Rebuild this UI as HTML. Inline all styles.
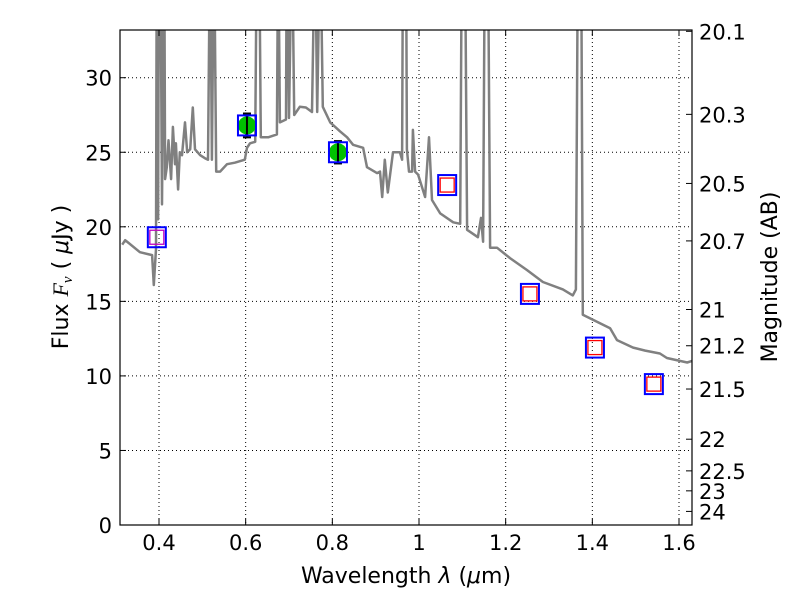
<!DOCTYPE html>
<html><head><meta charset="utf-8"><style>
body{margin:0;background:#fff;}
svg text{font-family:"DejaVu Sans","Liberation Sans",sans-serif;fill:#000;}
</style></head><body>
<svg id="chart" width="800" height="600" viewBox="0 0 800 600" xmlns="http://www.w3.org/2000/svg">
<defs><clipPath id="clip"><rect x="120" y="30" width="572" height="495"/></clipPath></defs>
<rect x="0" y="0" width="800" height="600" fill="#fff"/>
<g id="grid"></g>
<g id="spec" clip-path="url(#clip)"></g>
<g id="marks"></g>
<rect x="120" y="30" width="572" height="495" fill="none" stroke="#000" stroke-width="1.2"/>
<g id="axes"></g>
<text x="406" y="583" font-size="22" text-anchor="middle">Wavelength  <tspan font-style="italic">λ</tspan> (<tspan font-style="italic">μ</tspan>m)</text>
<text transform="translate(68,277) rotate(-90)" font-size="22" text-anchor="middle">Flux  <tspan font-family="Liberation Serif,serif" font-style="italic">F<tspan font-size="15" dy="4">ν</tspan></tspan><tspan dy="-4">  ( </tspan><tspan font-style="italic">μ</tspan>Jy )</text>
<text transform="translate(777,277) rotate(-90)" font-size="22" text-anchor="middle">Magnitude (AB)</text>
</svg>
<script>
const specLam=[0.315,0.322,0.356,0.384,0.388,0.393,0.395,0.398,0.400,0.403,0.407,0.412,0.414,0.418,0.422,0.428,0.432,0.437,0.439,0.444,0.448,0.453,0.460,0.465,0.472,0.478,0.483,0.495,0.506,0.513,0.518,0.522,0.527,0.532,0.541,0.557,0.575,0.598,0.603,0.610,0.622,0.626,0.631,0.635,0.652,0.672,0.675,0.679,0.693,0.695,0.700,0.707,0.712,0.725,0.739,0.753,0.760,0.765,0.772,0.778,0.795,0.818,0.834,0.848,0.871,0.880,0.903,0.910,0.915,0.921,0.928,0.940,0.956,0.961,0.963,0.970,0.972,0.977,0.984,0.986,0.991,0.998,1.014,1.023,1.030,1.049,1.079,1.095,1.099,1.106,1.111,1.136,1.143,1.148,1.152,1.159,1.164,1.180,1.210,1.249,1.286,1.332,1.355,1.362,1.367,1.374,1.378,1.441,1.457,1.494,1.522,1.556,1.572,1.619,1.630];
const specFlux=[18.8,19.1,18.3,18.1,16.1,18.5,40,20.5,40,40,21.5,40,23.2,24,25.8,23.2,26.7,24.2,25.6,22.5,25,24.8,27,25,25.2,28,25.2,24.8,24.6,24.5,40,24.5,40,23.7,23.7,24.2,24.3,24.5,25.3,25.6,25.7,40,40,26,26,26.2,40,27,27.2,40,27.3,40,27.5,28.05,28,27.7,40,27.7,40,28.05,27,26.4,26,25.5,25.3,24,23.6,23.7,22,24.5,22.3,25,25,24.5,40,40,25.2,23.7,23.7,26.5,23.7,23.5,22,26,21.8,20.9,20.3,20.2,40,40,19.8,19.3,20.6,19,40,40,18.6,18.6,17.9,17.1,16.3,15.8,15.4,15.8,40,40,14.1,13.2,12.4,11.9,11.7,11.5,11.2,10.9,11];
const photLam=[0.395,0.603,0.813,1.065,1.256,1.406,1.542];
const photFlux=[19.3,26.8,25.0,22.8,15.5,11.9,9.45];
const photErr=[0,0.8,0.75,0,0,0,0];
const photType=["upper","detect","detect","model","model","model","model"];
const xTicks=[0.4,0.6,0.8,1.0,1.2,1.4,1.6];
const xTickLabels=["0.4","0.6","0.8","1","1.2","1.4","1.6"];
const yTicks=[0,5,10,15,20,25,30];
const magTicks=[20.1,20.3,20.5,20.7,21,21.2,21.5,22,22.5,23,24];
const magLabels=["20.1","20.3","20.5","20.7","21","21.2","21.5","22","22.5","23","24"];

const X0=120,X1=692,Y0=525,Y1=30,XMIN=0.31,XMAX=1.63,YMIN=0,YMAX=33.2;
const sx=v=>X0+(v-XMIN)/(XMAX-XMIN)*(X1-X0);
const sy=v=>Y0-(v-YMIN)/(YMAX-YMIN)*(Y0-Y1);
const NS="http://www.w3.org/2000/svg";
function mk(tag,attrs,parent){const e=document.createElementNS(NS,tag);for(const k in attrs)e.setAttribute(k,attrs[k]);parent.appendChild(e);return e;}
const grid=document.getElementById('grid'),axes=document.getElementById('axes'),spec=document.getElementById('spec'),marks=document.getElementById('marks');

xTicks.forEach((t,i)=>{
  const x=sx(t);
  const g=mk('line',{x1:x,x2:x,y1:Y1,y2:Y0,stroke:'#000','stroke-width':1,'stroke-dasharray':'1,3'},grid);
  
  
  mk('line',{x1:x,x2:x,y1:Y0,y2:Y0-6,stroke:'#000'},axes);
  mk('line',{x1:x,x2:x,y1:Y1,y2:Y1+6,stroke:'#000'},axes);
  const tx=mk('text',{x:x,y:Y0+25,'font-size':21,'text-anchor':'middle'},axes);
  tx.textContent=xTickLabels[i];
  
  
});
yTicks.forEach(t=>{
  const y=sy(t);
  const g=mk('line',{x1:X0,x2:X1,y1:y,y2:y,stroke:'#000','stroke-width':1,'stroke-dasharray':'1,3'},grid);
  
  
  mk('line',{x1:X0,x2:X0+6,y1:y,y2:y,stroke:'#000'},axes);
  const tx=mk('text',{x:X0-8,y:y+8,'font-size':21,'text-anchor':'end'},axes);
  tx.textContent=String(t);
  
  
});
magTicks.forEach((m,i)=>{
  const f=Math.pow(10,(23.9-m)/2.5);
  const y=sy(f);
  mk('line',{x1:X1,x2:X1-6,y1:y,y2:y,stroke:'#000'},axes);
  const tx=mk('text',{x:X1+7,y:y+8,'font-size':21,'text-anchor':'start'},axes);
  tx.textContent=magLabels[i];
  
  
});

const pts=specLam.map((l,i)=>sx(l).toFixed(1)+','+sy(specFlux[i]).toFixed(1)).join(' ');
const pl=mk('polyline',{points:pts,fill:'none',stroke:'#808080','stroke-width':2.5,'stroke-linejoin':'round'},spec);



photLam.forEach((l,i)=>{
  const x=sx(l),y=sy(photFlux[i]);
  const g=mk('g',{},marks);
  
  
  if(photType[i]==='detect'){
    mk('circle',{cx:x,cy:y,r:9,fill:'#00c000',stroke:'none'},g);
    const y1=sy(photFlux[i]+photErr[i]),y2=sy(photFlux[i]-photErr[i]);
    mk('line',{x1:x,x2:x,y1:y1,y2:y2,stroke:'#000','stroke-width':2},g);
    mk('line',{x1:x-4,x2:x+4,y1:y1,y2:y1,stroke:'#000','stroke-width':2},g);
    mk('line',{x1:x-4,x2:x+4,y1:y2,y2:y2,stroke:'#000','stroke-width':2},g);
  } else {
    const c=photType[i]==='upper'?'#c000c0':'#ff0000';
    mk('rect',{x:x-7,y:y-7,width:14,height:14,fill:'none',stroke:c,'stroke-width':1.3},g);
  }
  mk('rect',{x:x-9,y:y-10,width:18,height:20,fill:'none',stroke:'#0000ff','stroke-width':2},g);
});
</script>
</body></html>
